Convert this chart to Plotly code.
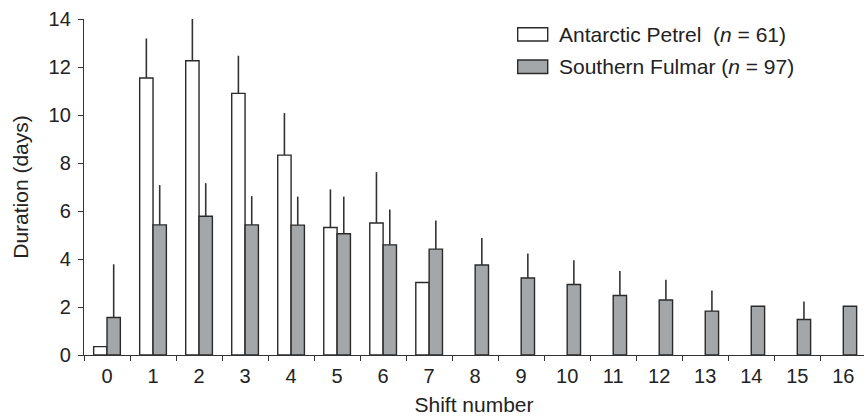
import plotly.graph_objects as go

shifts = [str(i) for i in range(17)]
petrel_mean = [0.35, 11.54, 12.26, 10.9, 8.33, 5.31, 5.5, 3.02] + [None] * 9
petrel_sd = [0, 1.65, 1.86, 1.57, 1.75, 1.59, 2.12, 0] + [None] * 9
fulmar_mean = [1.56, 5.42, 5.78, 5.42, 5.41, 5.05, 4.59, 4.41, 3.75, 3.21, 2.94,
               2.48, 2.29, 1.83, 2.03, 1.48, 2.03]
fulmar_sd = [2.22, 1.66, 1.38, 1.2, 1.19, 1.55, 1.47, 1.19, 1.12, 1.02, 1.01,
             1.02, 0.85, 0.86, 0, 0.75, 0]
legend_labels = ["Antarctic Petrel\u00a0\u00a0(<i>n</i> = 61)",
                 "Southern Fulmar (<i>n</i> = 97)"]

FONT = "Liberation Sans, Arial, sans-serif"
TXT = "#222222"
EDGE = "#2a2a2a"
GRAY = "#a4a7a9"
TICK_SIZE = 20
TITLE_SIZE = 21


def err(sd):
    return dict(type="data", symmetric=False, array=sd,
                arrayminus=[0] * len(sd), width=0, thickness=1.6, color="#333333")


fig = go.Figure()
fig.add_trace(go.Bar(x=shifts, y=petrel_mean, name=legend_labels[0],
                     marker=dict(color="white", line=dict(color=EDGE, width=1.4)),
                     error_y=err(petrel_sd)))
fig.add_trace(go.Bar(x=shifts, y=fulmar_mean, name=legend_labels[1],
                     marker=dict(color=GRAY, line=dict(color=EDGE, width=1.4)),
                     error_y=err(fulmar_sd)))

# custom legend (rectangular swatches like the original)
legend_rows = [(0.9345, 0.974, "white"), (0.838, 0.878, GRAY)]
for (y0, y1, fill), label in zip(legend_rows, legend_labels):
    fig.add_shape(type="rect", xref="paper", yref="paper", x0=0.556, x1=0.5945,
                  y0=y0, y1=y1, fillcolor=fill, line=dict(color=EDGE, width=1.4))
    fig.add_annotation(xref="paper", yref="paper", x=0.606, y=(y0 + y1) / 2,
                       xanchor="left", yanchor="middle", text=label, showarrow=False,
                       font=dict(family=FONT, size=TITLE_SIZE, color=TXT))

fig.update_layout(
    width=864, height=418,
    margin=dict(l=84, r=0, t=19, b=63),
    barmode="group", bargap=0.42, bargroupgap=0,
    plot_bgcolor="white", paper_bgcolor="white",
    showlegend=False,
    font=dict(family=FONT, size=TICK_SIZE, color=TXT),
)
fig.update_xaxes(type="category", tickson="boundaries", ticks="outside", ticklen=5,
                 tickwidth=1.2, tickcolor="#333333", showline=True, linecolor="#333333",
                 linewidth=1.4, showgrid=False, range=[-0.5, 16.45],
                 ticklabelstandoff=3,
                 title=dict(text="Shift number", standoff=11,
                            font=dict(family=FONT, size=TITLE_SIZE, color=TXT)),
                 tickfont=dict(family=FONT, size=TICK_SIZE, color=TXT))
fig.update_yaxes(range=[0, 14], dtick=2, tick0=0, ticks="outside", ticklen=5,
                 tickwidth=1.2, tickcolor="#333333", showline=True, linecolor="#333333",
                 linewidth=1.4, showgrid=False, zeroline=False,
                 ticklabelstandoff=3,
                 title=dict(text="Duration (days)", standoff=14,
                            font=dict(family=FONT, size=TITLE_SIZE, color=TXT)),
                 tickfont=dict(family=FONT, size=TICK_SIZE, color=TXT))

fig.write_html("out.html")
